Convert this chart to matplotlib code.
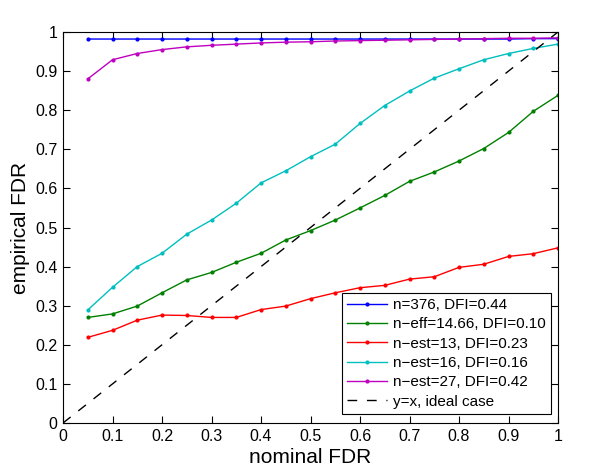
import matplotlib
matplotlib.use("Agg")
import matplotlib.pyplot as plt
import numpy as np

plt.rcParams['font.family'] = ['Liberation Sans', 'DejaVu Sans']

nominal = [0.05, 0.10, 0.15, 0.20, 0.25, 0.30, 0.35, 0.40, 0.45, 0.50,
           0.55, 0.60, 0.65, 0.70, 0.75, 0.80, 0.85, 0.90, 0.95, 1.00]

blue_n376 = [0.982, 0.982, 0.982, 0.982, 0.982, 0.982, 0.982, 0.982, 0.982, 0.982,
             0.982, 0.982, 0.982, 0.982, 0.982, 0.982, 0.982, 0.982, 0.983, 0.983]
green_neff = [0.270, 0.279, 0.299, 0.333, 0.366, 0.385, 0.411, 0.434, 0.468, 0.492,
              0.519, 0.550, 0.582, 0.618, 0.642, 0.670, 0.702, 0.743, 0.797, 0.838]
red_nest13 = [0.219, 0.237, 0.263, 0.276, 0.275, 0.270, 0.270, 0.290, 0.299, 0.318,
              0.333, 0.346, 0.352, 0.368, 0.374, 0.398, 0.406, 0.426, 0.433, 0.448]
cyan_nest16 = [0.289, 0.347, 0.400, 0.434, 0.483, 0.519, 0.562, 0.614, 0.645, 0.681,
               0.713, 0.766, 0.812, 0.849, 0.882, 0.906, 0.929, 0.945, 0.958, 0.969]
magenta_nest27 = [0.880, 0.929, 0.945, 0.955, 0.962, 0.966, 0.969, 0.972, 0.974, 0.975,
                  0.977, 0.978, 0.979, 0.980, 0.981, 0.982, 0.983, 0.984, 0.984, 0.985]

labels = ["n=376, DFI=0.44", "n\u2212eff=14.66, DFI=0.10", "n\u2212est=13, DFI=0.23",
          "n\u2212est=16, DFI=0.16", "n\u2212est=27, DFI=0.42", "y=x, ideal case"]
colors = ["#0000ff", "#008000", "#ff0000", "#00bfbf", "#bf00bf"]
series = [blue_n376, green_neff, red_nest13, cyan_nest16, magenta_nest27]

ticks = [0, 0.1, 0.2, 0.3, 0.4, 0.5, 0.6, 0.7, 0.8, 0.9, 1]
tick_labels = ["0", "0.1", "0.2", "0.3", "0.4", "0.5", "0.6", "0.7", "0.8", "0.9", "1"]

fig = plt.figure(figsize=(6.0, 4.71), dpi=100)
ax = fig.add_axes([63/600, 1-423/471, 495/600, 391/471])

for ys, c, lab in zip(series, colors, labels[:5]):
    ax.plot(nominal, ys, '-', color=c, marker='.', markersize=4, linewidth=1.0, label=lab)
ax.plot([0, 1], [0, 1], color='black', linestyle=(0, (7, 7)), linewidth=1.0, label=labels[5])

ax.set_xlim(0, 1)
ax.set_ylim(0, 1)
ax.set_xticks(ticks)
ax.set_xticklabels(tick_labels)
ax.set_yticks(ticks)
ax.set_yticklabels(tick_labels)
ax.tick_params(direction='in', top=True, right=True, length=5, width=0.8, labelsize=11.5, pad=4)
for s in ax.spines.values():
    s.set_linewidth(0.8)

ax.set_xlabel("nominal FDR", fontsize=15, labelpad=3)
ax.set_ylabel("empirical FDR", fontsize=15, labelpad=4)

leg = ax.legend(loc='lower right', bbox_to_anchor=(551/600, 1-414/471), bbox_transform=fig.transFigure,
                fontsize=11, fancybox=False, edgecolor='black', framealpha=1,
                borderpad=0.35, labelspacing=0.35, handlelength=2.6, handletextpad=0.4,
                borderaxespad=0)
leg.get_frame().set_linewidth(0.8)

fig.savefig("out.png", dpi=100)
